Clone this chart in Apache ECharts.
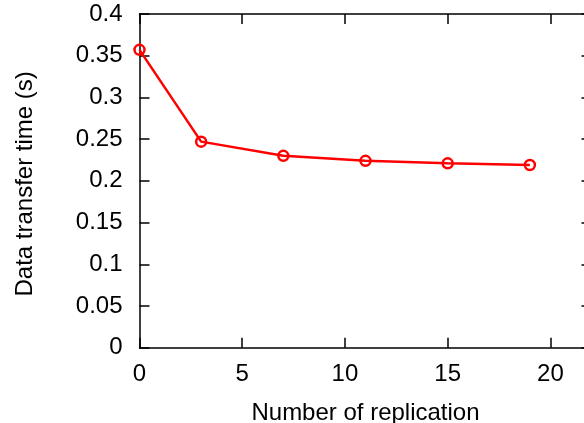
<!DOCTYPE html>
<html>
<head>
<meta charset="utf-8">
<script src="https://cdn.jsdelivr.net/npm/echarts@6/dist/echarts.min.js"></script>
<style>
  html, body { margin: 0; padding: 0; background: #fff; }
  #chart { width: 584px; height: 423px; }
</style>
</head>
<body>
<div id="chart"></div>
<script>
// replication count vs. transfer time
var replication = [0, 3, 7, 11, 15, 19];
var transferTime = [0.357, 0.247, 0.230, 0.224, 0.221, 0.219];

var font = "'Liberation Sans', Arial, sans-serif";
var black = "#000";

var chart = echarts.init(document.getElementById("chart"));

var lineStyle = { color: black, width: 1.5 };
var tick = { show: true, inside: true, length: 10, lineStyle: lineStyle };

chart.setOption({
  animation: false,
  grid: {
    left: 139.5,
    top: 14,
    width: 452,
    height: 333.7,
    outerBoundsMode: "none",
    containLabel: false
  },
  xAxis: [
    {
      type: "value",
      min: 0,
      max: 22,
      interval: 5,
      position: "bottom",
      name: "Number of replication",
      nameLocation: "middle",
      nameGap: 54,
      nameTextStyle: { color: black, fontFamily: font, fontSize: 24 },
      axisLine: { show: true, onZero: false, lineStyle: lineStyle },
      axisTick: tick,
      axisLabel: { color: black, fontFamily: font, fontSize: 24, margin: 15, showMaxLabel: false },
      splitLine: { show: false }
    },
    {
      type: "value",
      min: 0,
      max: 22,
      interval: 5,
      position: "top",
      axisLine: { show: true, onZero: false, lineStyle: lineStyle },
      axisTick: tick,
      axisLabel: { show: false },
      splitLine: { show: false }
    }
  ],
  yAxis: [
    {
      type: "value",
      min: 0,
      max: 0.4,
      interval: 0.05,
      position: "left",
      name: "Data transfer time (s)",
      nameLocation: "middle",
      nameGap: 102,
      nameRotate: 90,
      nameTextStyle: { color: black, fontFamily: font, fontSize: 24, padding: [0, 6, 0, 0] },
      axisLine: { show: true, onZero: false, lineStyle: lineStyle },
      axisTick: tick,
      axisLabel: { color: black, fontFamily: font, fontSize: 24, margin: 17 },
      splitLine: { show: false }
    },
    {
      type: "value",
      min: 0,
      max: 0.4,
      interval: 0.05,
      position: "right",
      axisLine: { show: true, onZero: false, lineStyle: lineStyle },
      axisTick: tick,
      axisLabel: { show: false },
      splitLine: { show: false }
    }
  ],
  series: [
    {
      type: "line",
      data: replication.map(function (x, i) { return [x, transferTime[i]]; }),
      symbol: "circle",
      symbolSize: 10,
      lineStyle: { color: "#ff0000", width: 2.5 },
      itemStyle: { color: "transparent", borderColor: "#ff0000", borderWidth: 2.5 }
    }
  ]
});
</script>
</body>
</html>
